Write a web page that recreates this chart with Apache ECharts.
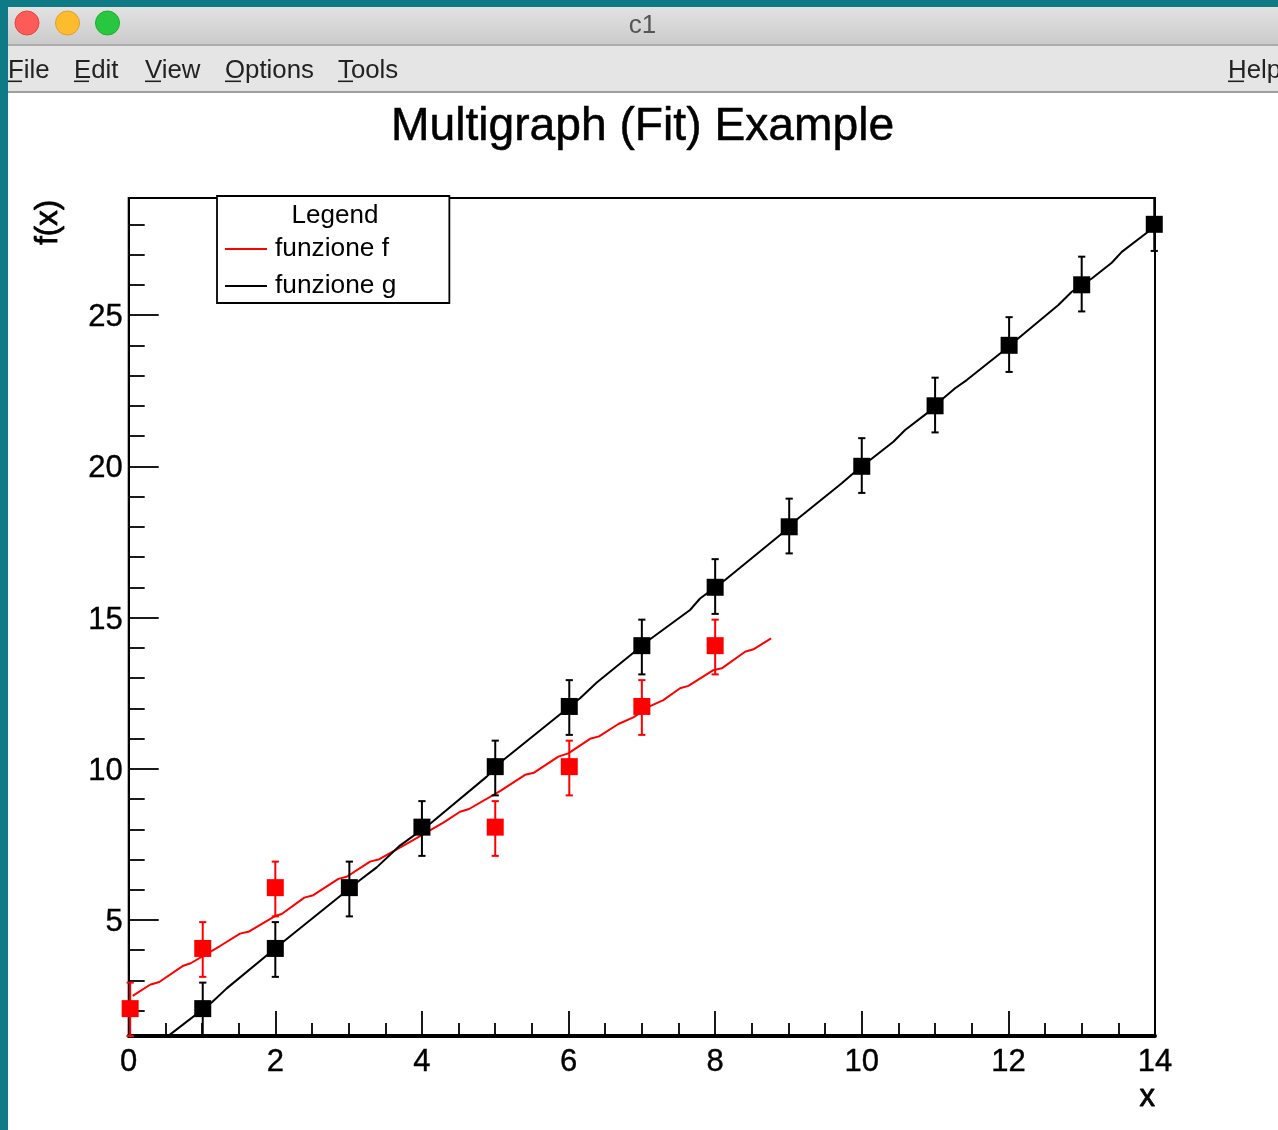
<!DOCTYPE html>
<html>
<head>
<meta charset="utf-8">
<style>html,body{margin:0;padding:0;background:#fff}#c{width:1278px;height:1130px}</style>
<script src="https://cdn.jsdelivr.net/npm/echarts@6/dist/echarts.min.js"></script>
</head>
<body>
<div id="c"></div>
<script>
const FONT = '"Liberation Sans", Arial, sans-serif';
const chartTitle = 'Multigraph (Fit) Example';
const windowTitle = 'c1';
const menuNames = ['File', 'Edit', 'View', 'Options', 'Tools', 'Help'];
const xAxisName = 'x';
const yAxisName = 'f(x)';
const legendTitle = 'Legend';
const fName = 'funzione f';
const gName = 'funzione g';

const yMajorTicks = [5, 10, 15, 20, 25];
const yMinorTicks = [2, 3, 4, 6, 7, 8, 9, 11, 12, 13, 14, 16, 17, 18, 19, 21, 22, 23, 24, 26, 27, 28];

// Measured points, with their error-bar ends
const fX    = [0.02, 1.01, 2, 5, 6.01, 7, 8];
const fY    = [2.07, 4.06, 6.07, 8.07, 10.07, 12.06, 14.07];
const fHigh = [2.93, 4.93, 6.93, 8.93, 10.93, 12.93, 14.93];
const fLow  = [1.12, 3.12, 5.12, 7.12, 9.12, 11.12, 13.12];

const gX    = [1.01, 2, 3.01, 4, 5, 6.01, 7, 8, 9.01, 10, 11, 12.01, 13, 13.99];
const gY    = [2.07, 4.06, 6.07, 8.07, 10.07, 12.06, 14.07, 16, 18, 20, 22, 24, 26, 28];
const gHigh = [2.93, 4.93, 6.93, 8.93, 10.93, 12.93, 14.93, 16.93, 18.93, 20.93, 22.93, 24.93, 26.93, 28.93];
const gLow  = [1.12, 3.12, 5.12, 7.12, 9.12, 11.12, 13.12, 15.12, 17.12, 19.12, 21.12, 23.12, 25.12, 27.12];

// Fit curves
const fFitX = [0.055, 0.29, 0.417, 0.745, 0.846, 1.246, 1.518, 1.632, 1.996, 2.087, 2.396, 2.518, 2.86, 2.974, 3.292, 3.419, 3.838, 4.292, 4.52, 4.643, 5.065, 5.407, 5.529, 5.861, 5.997, 6.293, 6.416, 6.68, 6.884, 7.112, 7.293, 7.521, 7.635, 7.975, 8.09, 8.408, 8.521, 8.763];
const fFitY = [2.49, 2.86, 2.95, 3.49, 3.57, 4.14, 4.55, 4.61, 5.13, 5.20, 5.74, 5.82, 6.36, 6.43, 6.93, 7.01, 7.58, 8.22, 8.58, 8.67, 9.26, 9.80, 9.87, 10.40, 10.51, 10.99, 11.07, 11.48, 11.70, 12.07, 12.27, 12.66, 12.74, 13.26, 13.32, 13.87, 13.95, 14.31];
const gFitX = [0.54, 1.132, 1.337, 2.109, 3.156, 3.383, 3.70, 4.12, 4.884, 5.11, 6.157, 6.385, 7.112, 7.657, 7.794, 8.135, 8.886, 9.135, 9.727, 9.885, 10.113, 10.431, 10.591, 10.887, 11.113, 11.273, 11.432, 11.887, 12.137, 12.682, 12.865, 13.138, 13.41, 13.547, 13.888, 14];
const gFitY = [1.17, 2.27, 2.74, 4.28, 6.32, 6.74, 7.46, 8.20, 9.74, 10.29, 12.33, 12.85, 14.28, 15.25, 15.63, 16.24, 17.73, 18.28, 19.44, 19.77, 20.21, 20.81, 21.20, 21.75, 22.25, 22.58, 22.85, 23.73, 24.23, 25.33, 25.77, 26.21, 26.73, 27.09, 27.72, 27.97];

const zip = (a, b) => a.map((v, i) => [v, b[i]]);
const zip3 = (a, b, c) => a.map((v, i) => [v, b[i], c[i]]);

function errorRenderer(color) {
  return function (params, api) {
    const cs = params.coordSys;
    const top = api.coord([api.value(0), api.value(2)]);
    const bot = api.coord([api.value(0), api.value(1)]);
    const cx = top[0];
    const yTop = Math.max(top[1], cs.y);
    const yBot = Math.min(bot[1], cs.y + cs.height);
    const style = { stroke: color, lineWidth: 2, fill: null };
    const children = [{ type: 'line', shape: { x1: cx, y1: yTop, x2: cx, y2: yBot }, style }];
    if (top[1] >= cs.y) children.push({ type: 'line', shape: { x1: cx - 3.6, y1: yTop, x2: cx + 3.6, y2: yTop }, style });
    children.push({ type: 'line', shape: { x1: cx - 3.6, y1: yBot, x2: cx + 3.6, y2: yBot }, style });
    return { type: 'group', children };
  };
}

// Window chrome
const menuX = [8, 74, 145, 225, 338, 1228];
const menuUnderline = [14, 15, 16, 16, 15, 16];
const chrome = [
  { type: 'rect', z: 0, shape: { x: 0, y: 0, width: 1278, height: 7 }, style: { fill: '#0e7a85' } },
  { type: 'rect', z: 0, shape: { x: 0, y: 0, width: 8, height: 1130 }, style: { fill: '#0e7a85' } },
  { type: 'rect', z: 0, shape: { x: 8, y: 7, width: 1270, height: 37 },
    style: { fill: new echarts.graphic.LinearGradient(0, 0, 0, 1, [{ offset: 0, color: '#e2e2e2' }, { offset: 1, color: '#cbcbcb' }]) } },
  { type: 'rect', z: 0, shape: { x: 8, y: 44, width: 1270, height: 2 }, style: { fill: '#ababab' } },
  { type: 'rect', z: 0, shape: { x: 8, y: 46, width: 1270, height: 45 }, style: { fill: '#e5e5e5' } },
  { type: 'rect', z: 0, shape: { x: 8, y: 91, width: 1270, height: 2 }, style: { fill: '#9d9d9d' } },
  { type: 'circle', z: 1, shape: { cx: 27, cy: 23, r: 12 }, style: { fill: '#fc5b57', stroke: '#e2463f', lineWidth: 1 } },
  { type: 'circle', z: 1, shape: { cx: 67.5, cy: 23, r: 12 }, style: { fill: '#fdbb2e', stroke: '#e0a028', lineWidth: 1 } },
  { type: 'circle', z: 1, shape: { cx: 107.5, cy: 23, r: 12 }, style: { fill: '#27c840', stroke: '#1dad2b', lineWidth: 1 } },
  { type: 'text', z: 1, x: 642.5, y: 26, style: { text: windowTitle, font: '26px ' + FONT, fill: '#555', textAlign: 'center', textVerticalAlign: 'middle' } }
];
menuNames.forEach((name, i) => {
  chrome.push({ type: 'text', z: 1, x: menuX[i], y: 71, style: { text: name, font: '25.8px ' + FONT, fill: '#222', textAlign: 'left', textVerticalAlign: 'middle' } });
  chrome.push({ type: 'rect', z: 1, shape: { x: menuX[i], y: 80.5, width: menuUnderline[i], height: 1.6 }, style: { fill: '#222' } });
});
chrome.push({ type: 'text', z: 20, x: 335, y: 216, style: { text: legendTitle, font: '26px ' + FONT, fill: '#000', textAlign: 'center', textVerticalAlign: 'middle' } });

const chart = echarts.init(document.getElementById('c'), null, { renderer: 'canvas' });
const yMin = 1.165, yMax = 28.87;
const tickLabelStyle = { fontFamily: FONT, fontSize: 31, color: '#000', textBorderColor: '#000', textBorderWidth: 0.4 };
chart.setOption({
  animation: false,
  backgroundColor: '#fff',
  title: {
    text: chartTitle, left: 386, top: 99,
    textStyle: { fontFamily: FONT, fontSize: 46.2, fontWeight: 'normal', color: '#000', textBorderColor: '#000', textBorderWidth: 0.5 }
  },
  legend: {
    data: [fName, gName],
    icon: 'rect',
    orient: 'vertical', left: 217, top: 196,
    padding: [38, 53, 2, 8],
    itemWidth: 42, itemHeight: 2, itemGap: 7,
    backgroundColor: '#fff', borderColor: '#000', borderWidth: 1.8,
    z: 15,
    textStyle: { fontFamily: FONT, fontSize: 26.3, color: '#000', lineHeight: 30, padding: [0, 0, 0, 3] }
  },
  grid: { left: 128.7, right: 123, top: 198, bottom: 94, show: true, borderColor: '#000', borderWidth: 2, backgroundColor: 'transparent' },
  xAxis: {
    type: 'value', min: 0, max: 14, interval: 2, position: 'bottom',
    name: xAxisName, nameLocation: 'end', nameGap: 0,
    nameTextStyle: { fontFamily: FONT, fontSize: 31, color: '#000', align: 'right', verticalAlign: 'top', padding: [46, 0, 0, 0], textBorderColor: '#000', textBorderWidth: 0.8 },
    axisLine: { show: true, onZero: false, lineStyle: { color: '#000', width: 4 } },
    axisTick: { show: true, inside: true, length: 25, lineStyle: { color: '#000', width: 1.8 } },
    minorTick: { show: true, splitNumber: 4, length: 13, lineStyle: { color: '#000', width: 1.8 } },
    axisLabel: Object.assign({ show: true, margin: 11, showMinLabel: true, showMaxLabel: true }, tickLabelStyle),
    splitLine: { show: false }, minorSplitLine: { show: false }
  },
  yAxis: [{
    type: 'value', min: yMin, max: yMax, position: 'left',
    axisLine: { show: true, onZero: false, lineStyle: { color: '#000', width: 2 } },
    axisTick: { show: true, inside: true, length: 30, customValues: yMajorTicks, lineStyle: { color: '#000', width: 1.8 } },
    axisLabel: {
      show: true, margin: 6, customValues: yMajorTicks,
      formatter: '{n|{value}}',
      rich: { n: Object.assign({ padding: [5, 0, 0, 0] }, tickLabelStyle) }
    },
    splitLine: { show: false }
  }, {
    type: 'value', min: yMin, max: yMax, position: 'left',
    axisLine: { show: false },
    axisTick: { show: true, inside: true, length: 16, customValues: yMinorTicks, lineStyle: { color: '#000', width: 1.8 } },
    axisLabel: { show: false },
    splitLine: { show: false }
  }, {
    type: 'value', min: yMin, max: yMax, position: 'left', offset: 80,
    name: yAxisName, nameLocation: 'end', nameGap: -2, nameRotate: 90,
    nameTextStyle: { fontFamily: FONT, fontSize: 31, color: '#000', align: 'right', verticalAlign: 'middle', textBorderColor: '#000', textBorderWidth: 0.8 },
    axisLine: { show: false }, axisTick: { show: false }, axisLabel: { show: false }, splitLine: { show: false }
  }],
  graphic: chrome,
  series: [
    { name: fName, type: 'line', data: zip(fFitX, fFitY), symbol: 'none', smooth: false, clip: false, z: 3,
      lineStyle: { color: '#ff0000', width: 2 }, itemStyle: { color: '#ff0000' } },
    { name: 'f errors', type: 'custom', data: zip3(fX, fLow, fHigh), clip: false, z: 4,
      renderItem: errorRenderer('#ff0000'), encode: { x: 0, y: [1, 2] } },
    { name: 'f points', type: 'scatter', data: zip(fX, fY), symbol: 'rect', symbolSize: 17, clip: false, z: 5,
      itemStyle: { color: '#ff0000', opacity: 1 } },
    { name: gName, type: 'line', data: zip(gFitX, gFitY), symbol: 'none', smooth: false, clip: false, z: 6,
      lineStyle: { color: '#000', width: 2 }, itemStyle: { color: '#000' } },
    { name: 'g errors', type: 'custom', data: zip3(gX, gLow, gHigh), clip: false, z: 7,
      renderItem: errorRenderer('#000'), encode: { x: 0, y: [1, 2] } },
    { name: 'g points', type: 'scatter', data: zip(gX, gY), symbol: 'rect', symbolSize: 17, clip: false, z: 8,
      itemStyle: { color: '#000', opacity: 1 } }
  ]
});
</script>
</body>
</html>
